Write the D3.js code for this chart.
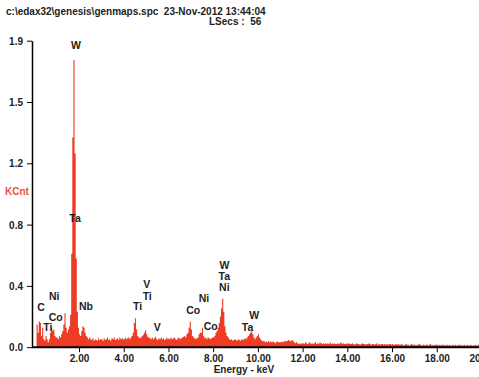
<!DOCTYPE html>
<html>
<head>
<meta charset="utf-8">
<script src="https://cdn.jsdelivr.net/npm/d3@7"></script>
<style>
  body { margin: 0; background: #fff; }
  svg { display: block; font-family: "Liberation Sans", Arial, sans-serif; }
  .tick text { font-size: 10px; font-weight: bold; fill: #222; }
  .tick line, .axis-line { stroke: #000; }
  .peak { font-size: 10.5px; fill: #222; text-anchor: middle; font-weight: bold; }
  .head { font-size: 10px; font-weight: bold; fill: #222; white-space: pre; }
</style>
</head>
<body>
<svg width="479" height="377"></svg>
<script>
// spectrum channels, 0.05 keV wide, starting at 0.00 keV (one row per keV)
var energyStep = 0.05;
var counts = [
  0, 0, 0.14, 0.09, 0.16, 0.15, 0.07, 0.12, 0.05, 0.04, 0.07, 0.05, 0.03, 0.05, 0.09, 0.12, 0.10, 0.11, 0.07, 0.06,
  0.06, 0.05, 0.07, 0.06, 0.08, 0.10, 0.14, 0.21, 0.12, 0.09, 0.11, 0.13, 0.20, 0.58, 1.30, 1.78, 1.20, 0.55, 0.22, 0.12,
  0.08, 0.07, 0.10, 0.13, 0.12, 0.09, 0.07, 0.06, 0.05, 0.06, 0.05, 0.045, 0.055, 0.04, 0.05, 0.045, 0.04, 0.055, 0.045, 0.05,
  0.05, 0.04, 0.055, 0.045, 0.05, 0.06, 0.045, 0.05, 0.04, 0.055, 0.05, 0.06, 0.045, 0.05, 0.055, 0.045, 0.06, 0.05, 0.055, 0.05,
  0.05, 0.06, 0.05, 0.055, 0.06, 0.05, 0.06, 0.07, 0.09, 0.15, 0.18, 0.11, 0.07, 0.06, 0.055, 0.06, 0.07, 0.075, 0.09, 0.105,
  0.08, 0.065, 0.06, 0.055, 0.05, 0.06, 0.05, 0.055, 0.065, 0.05, 0.045, 0.055, 0.05, 0.06, 0.05, 0.055, 0.045, 0.05, 0.06, 0.05,
  0.055, 0.05, 0.06, 0.05, 0.055, 0.06, 0.05, 0.045, 0.055, 0.06, 0.05, 0.055, 0.06, 0.065, 0.07, 0.06, 0.08, 0.09, 0.12, 0.16,
  0.11, 0.07, 0.06, 0.055, 0.05, 0.055, 0.06, 0.08, 0.09, 0.09, 0.12, 0.07, 0.055, 0.06, 0.05, 0.06, 0.055, 0.05, 0.055, 0.06,
  0.06, 0.07, 0.09, 0.10, 0.12, 0.15, 0.19, 0.24, 0.30, 0.22, 0.13, 0.09, 0.07, 0.06, 0.05, 0.045, 0.05, 0.04, 0.045, 0.05,
  0.045, 0.04, 0.05, 0.045, 0.04, 0.05, 0.045, 0.05, 0.055, 0.05, 0.06, 0.07, 0.08, 0.09, 0.10, 0.08, 0.06, 0.05, 0.06, 0.07,
  0.08, 0.06, 0.05, 0.04, 0.035, 0.04, 0.03, 0.035, 0.03, 0.04, 0.03, 0.035, 0.03, 0.035, 0.03, 0.025, 0.03, 0.035, 0.03, 0.03,
  0.03, 0.035, 0.03, 0.035, 0.04, 0.035, 0.04, 0.045, 0.04, 0.035, 0.045, 0.04, 0.03, 0.025, 0.03, 0.025, 0.02, 0.025, 0.02, 0.025,
  0.025, 0.02, 0.03, 0.025, 0.02, 0.025, 0.03, 0.02, 0.025, 0.02, 0.025, 0.03, 0.02, 0.025, 0.02, 0.03, 0.025, 0.02, 0.025, 0.02,
  0.025, 0.02, 0.025, 0.02, 0.03, 0.02, 0.025, 0.02, 0.025, 0.02, 0.02, 0.025, 0.02, 0.025, 0.03, 0.02, 0.025, 0.02, 0.02, 0.025,
  0.02, 0.025, 0.02, 0.02, 0.025, 0.02, 0.015, 0.02, 0.025, 0.02, 0.02, 0.015, 0.02, 0.025, 0.02, 0.02, 0.015, 0.02, 0.02, 0.025,
  0.02, 0.015, 0.02, 0.02, 0.015, 0.02, 0.025, 0.015, 0.02, 0.015, 0.02, 0.02, 0.015, 0.02, 0.015, 0.02, 0.015, 0.02, 0.02, 0.015,
  0.02, 0.015, 0.015, 0.02, 0.015, 0.02, 0.015, 0.015, 0.02, 0.015, 0.01, 0.015, 0.02, 0.015, 0.015, 0.01, 0.015, 0.02, 0.015, 0.015,
  0.015, 0.01, 0.015, 0.015, 0.02, 0.015, 0.01, 0.015, 0.015, 0.01, 0.015, 0.015, 0.01, 0.015, 0.02, 0.01, 0.015, 0.01, 0.015, 0.015,
  0.015, 0.01, 0.015, 0.01, 0.015, 0.015, 0.01, 0.015, 0.01, 0.015, 0.01, 0.015, 0.01, 0.01, 0.015, 0.01, 0.015, 0.01, 0.01, 0.015,
  0.01, 0.015, 0.01, 0.01, 0.015, 0.01, 0.01, 0.015, 0.01, 0.01, 0.015, 0.01, 0.01, 0.01, 0.015, 0.01, 0.01, 0.015, 0.01, 0.01
];

var xTicks = [2, 4, 6, 8, 10, 12, 14, 16, 18, 20];
var yTicks = [0, 0.38, 0.76, 1.14, 1.52, 1.9];
var yTickLabels = ["0.0", "0.4", "0.8", "1.2", "1.5", "1.9"];

// peak labels: symbol, energy (keV), height (KCnt)
var peakNames  = ["W", "Ta", "C", "Ni", "Co", "Ti", "Nb", "Ti", "Ti", "V", "V", "Co", "Ni", "Co", "W", "Ta", "Ni", "W", "Ta"];
var peakEnergy = [1.86, 1.82, 0.30, 0.89, 0.96, 0.61, 2.31, 4.62, 5.05, 5.03, 5.50, 7.11, 7.59, 7.89, 8.50, 8.50, 8.50, 9.83, 9.54];
var peakLevel  = [1.85, 0.776, 0.225, 0.293, 0.163, 0.101, 0.231, 0.231, 0.293, 0.364, 0.101, 0.206, 0.280, 0.107, 0.485, 0.417, 0.349, 0.175, 0.101];

var svg = d3.select("svg");
var axisX = 32;

var x = d3.scaleLinear().domain([0, 20]).range([34.3, 481.5]);
var y = d3.scaleLinear().domain([0, 1.9]).range([347.2, 40.7]);

// header
svg.append("text")
    .attr("class", "head")
    .attr("x", 6).attr("y", 15)
    .text("c:\\edax32\\genesis\\genmaps.spc  23-Nov-2012 13:44:04");
svg.append("text")
    .attr("class", "head")
    .attr("x", 209).attr("y", 25)
    .text("LSecs :  56");

// spectrum
var pts = counts.map(function(c, i) { return [i * energyStep, c]; });
pts.push([counts.length * energyStep, 0]);

var area = d3.area()
    .x(function(d) { return x(d[0]); })
    .y0(y(0))
    .y1(function(d) { return y(d[1]); })
    .curve(d3.curveStepAfter);

svg.append("path")
    .datum(pts)
    .attr("d", area)
    .attr("fill", "#ee3b24");

// axes
var gy = svg.append("g")
    .attr("transform", "translate(" + axisX + ",0)")
    .call(d3.axisLeft(y).tickValues(yTicks).tickSize(5).tickSizeOuter(0)
        .tickFormat(function(d, i) { return yTickLabels[i]; }));
gy.select(".domain").attr("stroke", "#000").attr("stroke-width", 1.5);
gy.selectAll(".tick text").attr("x", -9).attr("dy", "0.35em");

var gx = svg.append("g")
    .attr("transform", "translate(0," + y(0) + ")")
    .call(d3.axisBottom(x).tickValues(xTicks).tickSize(5).tickFormat(d3.format(".2f")));
gx.select(".domain").remove();
gx.selectAll(".tick text").attr("y", 8);

svg.append("line")
    .attr("class", "axis-line")
    .attr("x1", axisX).attr("x2", x(20))
    .attr("y1", y(0)).attr("y2", y(0))
    .attr("stroke-width", 2);

svg.append("text")
    .attr("x", 244).attr("y", 373)
    .attr("text-anchor", "middle")
    .style("font-size", "10px").style("font-weight", "bold").style("fill", "#222")
    .text("Energy - keV");

svg.append("text")
    .attr("x", 5).attr("y", 195)
    .style("font-size", "10px").style("font-weight", "bold").style("fill", "#f0503c")
    .text("KCnt");

// peak labels
svg.selectAll(".peak")
    .data(peakNames)
    .enter().append("text")
    .attr("class", "peak")
    .attr("x", function(d, i) { return x(peakEnergy[i]); })
    .attr("y", function(d, i) { return y(peakLevel[i]); })
    .text(function(d) { return d; });
</script>
</body>
</html>
